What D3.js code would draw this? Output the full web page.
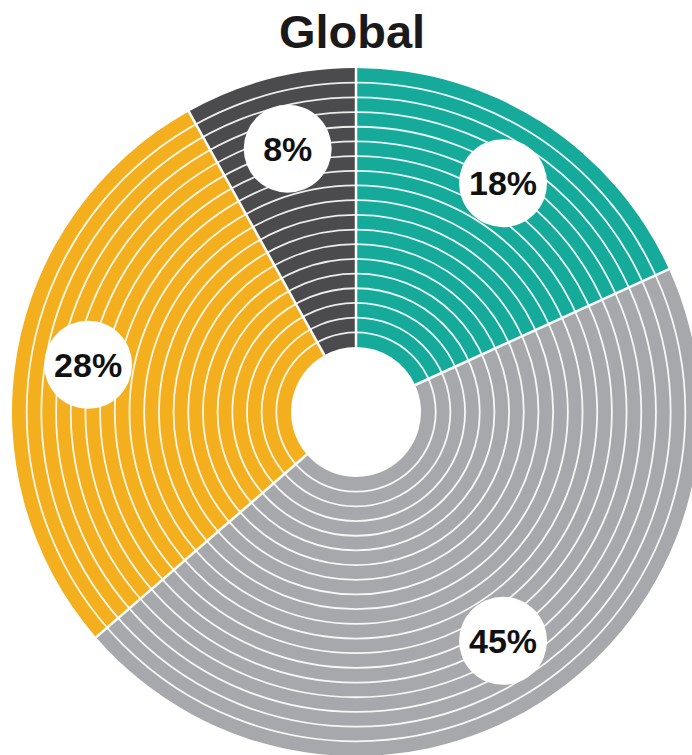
<!DOCTYPE html>
<html>
<head>
<meta charset="utf-8">
<script src="https://cdn.jsdelivr.net/npm/d3@7"></script>
<style>
  body { margin: 0; background: #fff; }
  svg { display: block; }
</style>
</head>
<body>
<svg id="chart" width="692" height="755"></svg>
<script>
// Data
const title = 'Global';
const categories = ['A', 'B', 'C', 'D'];
const values = [18, 45, 28, 8];
const labels = ['18%', '45%', '28%', '8%'];
const colors = ['#16aa9a', '#a7a8ab', '#f4af1e', '#4b4b4d'];

// Layout
const width = 692;
const height = 755;
const cx = 356;
const cy = 412;
const innerR = 65;
const outerR = 344;
const nRings = 19;
const labelR = 272;
const bubbleR = 44;

function Draw_Chart(){
    const svg = d3.select('#chart');

    svg.append('text')
    .attr('x', 352)
    .attr('y', 48)
    .style('text-anchor', 'middle')
    .style('font-family', 'Liberation Sans, Arial, sans-serif')
    .style('font-weight', 'bold')
    .style('font-size', '47px')
    .attr('fill', '#1a1a1a')
    .text(title);

    const g = svg.append('g')
    .attr('transform', `translate(${cx},${cy})`);

    const pie = d3.pie().sort(null).value((d, i) => values[i]);
    const arcs = pie(categories);

    const arc = d3.arc().innerRadius(innerR).outerRadius(outerR);

    // Slices
    g.selectAll('path.slice')
    .data(arcs)
    .enter()
    .append('path')
    .attr('class', 'slice')
    .attr('d', arc)
    .attr('fill', (d, i) => colors[i]);

    // Concentric white rings
    const ring = d3.scaleLinear().domain([0, nRings]).range([innerR, outerR]);
    g.selectAll('circle.ring')
    .data(d3.range(1, nRings))
    .enter()
    .append('circle')
    .attr('class', 'ring')
    .attr('r', d => ring(d))
    .attr('fill', 'none')
    .attr('stroke', '#fff')
    .attr('stroke-opacity', 0.9)
    .attr('stroke-width', 1.8);

    // Slice separators
    g.selectAll('line.sep')
    .data(arcs)
    .enter()
    .append('line')
    .attr('class', 'sep')
    .attr('x1', d => innerR * Math.sin(d.startAngle))
    .attr('y1', d => -innerR * Math.cos(d.startAngle))
    .attr('x2', d => (outerR + 2) * Math.sin(d.startAngle))
    .attr('y2', d => -(outerR + 2) * Math.cos(d.startAngle))
    .attr('stroke', '#fff')
    .attr('stroke-width', 2.5);

    // Label bubbles
    const labelArc = d3.arc().innerRadius(labelR).outerRadius(labelR);
    const lab = g.selectAll('g.lab')
    .data(arcs)
    .enter()
    .append('g')
    .attr('class', 'lab')
    .attr('transform', d => `translate(${labelArc.centroid(d)})`);

    lab.append('circle')
    .attr('r', bubbleR)
    .attr('fill', '#fff');

    lab.append('text')
    .attr('dy', '0.36em')
    .style('text-anchor', 'middle')
    .style('font-family', 'Liberation Sans, Arial, sans-serif')
    .style('font-weight', 'bold')
    .style('font-size', '34px')
    .attr('fill', '#111')
    .text((d, i) => labels[i]);
}

Draw_Chart();
</script>
</body>
</html>
